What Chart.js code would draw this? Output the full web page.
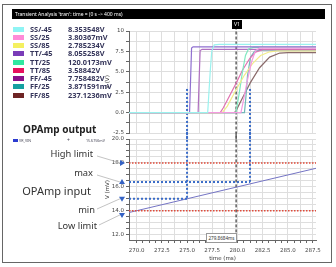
<!DOCTYPE html>
<html><head><meta charset="utf-8">
<script src="https://cdn.jsdelivr.net/npm/chart.js@4.4.0/dist/chart.umd.min.js"></script>
<style>
html,body{margin:0;padding:0;background:#fff;width:336px;height:267px;overflow:hidden;position:relative;font-family:"Noto Sans",sans-serif;}
canvas{position:absolute;left:0;top:0;}
.abs{position:absolute;white-space:nowrap;z-index:5;}
.lg{position:absolute;font-weight:bold;font-size:7.4px;color:#35355a;line-height:8px;white-space:nowrap;z-index:5;}
.sw{position:absolute;width:11px;height:5px;z-index:5;}
.note{position:absolute;white-space:nowrap;color:#333;z-index:5;line-height:1;}
</style></head><body>
<div class="abs" style="left:2px;top:4px;width:328px;height:257px;border:1px solid #666;z-index:1;"></div>
<div class="abs" style="left:12px;top:9px;width:313px;height:10px;background:#000;color:#fff;font-size:5px;line-height:10px;padding-left:3px;box-sizing:border-box;">Transient Analysis 'tran': time = (0 s -&gt; 400 ms)</div>
<canvas id="top" width="336" height="267"></canvas>
<canvas id="bot" width="336" height="267"></canvas>
<div id="legend"></div>
<div class="abs" style="left:232px;top:20px;width:10px;height:9px;background:#000;color:#fff;font-size:5px;line-height:9px;text-align:center;">V1</div>
<div class="abs" id="curlab" style="left:206px;top:233px;width:29px;height:8px;background:#fff;border:1px solid #999;color:#333;font-size:4.6px;line-height:8px;text-align:center;"></div>
<div class="note" style="left:23px;top:124px;font-size:10px;font-weight:bold;color:#222;">OPAmp output</div>
<div class="abs" style="left:13px;top:139px;width:5px;height:3px;background:#2b3bd0;"></div>
<div class="abs" style="left:19px;top:138px;font-size:3.6px;color:#445;">VR_VIN</div>
<div class="abs" style="left:67px;top:137px;font-size:5px;color:#445;">+</div>
<div class="abs" id="vinread" style="left:86px;top:138px;font-size:3.6px;color:#445;"></div>
<div class="note" style="right:243px;top:149px;font-size:9.3px;">High limit</div>
<div class="note" style="right:243px;top:168px;font-size:9.3px;">max</div>
<div class="note" style="right:245px;top:185px;font-size:11px;">OPAmp input</div>
<div class="note" style="right:241px;top:205px;font-size:9.3px;">min</div>
<div class="note" style="right:239px;top:221px;font-size:9.3px;">Low limit</div>
<script>
// ---- data ----
const cornerNames = ['SS/-45','SS/25','SS/85','TT/-45','TT/25','TT/85','FF/-45','FF/25','FF/85'];
const cursorReadouts = ['8.353548V','3.80367mV','2.785234V','8.055258V','120.0173mV','3.58842V','7.758482V','3.871591mV','237.1236mV'];
const swatchColors = ['#8ff4f4','#ff8ad8','#f4f060','#7a3cb8','#30e8a0','#e8105e','#8a108a','#14a0a0','#6e2424'];
const lineColors = ['#9af2ee','#f49ae0','#f2ec8a','#9070d0','#80e8c0','#e070b0','#b070c0','#70b8b8','#8a6a6a'];
// [time ms, V] for each corner
const ssM45 = [[269.24,0],[277.05,0],[277.15,2],[277.3,5],[277.45,7.5],[277.7,8.3],[278.2,8.35],[287.8,8.35]];
const ss25  = [[269.24,0],[280.35,0],[280.6,1.5],[281.0,4],[281.4,6.2],[281.8,7.6],[282.2,7.9],[287.8,7.9]];
const ss85  = [[269.24,0],[278.5,0],[279.0,0.8],[279.87,2.79],[280.7,4.6],[281.5,6.0],[282.3,7.0],[283.2,7.45],[284.0,7.55],[287.8,7.55]];
const ttM45 = [[269.24,0],[275.25,0],[275.35,4],[275.45,7.9],[275.6,8.06],[287.8,8.06]];
const tt25  = [[269.24,0],[279.8,0],[279.87,0.12],[280.2,2.5],[280.5,5],[280.8,7.0],[281.1,7.8],[281.6,8.0],[287.8,8.0]];
const tt85  = [[269.24,0],[278.3,0],[278.6,0.6],[279.2,2.0],[279.87,3.59],[280.5,5.2],[281.2,6.6],[281.8,7.4],[282.5,7.7],[287.8,7.7]];
const ffM45 = [[269.24,0],[276.1,0],[276.2,4],[276.3,7.6],[276.5,7.76],[287.8,7.76]];
const ff25  = [[269.24,0],[280.7,0],[280.85,2],[281.0,4.5],[281.3,6.8],[281.7,7.5],[282.3,7.65],[287.8,7.65]];
const ff85  = [[269.24,0],[279.7,0],[279.87,0.24],[280.5,1.8],[281.3,3.7],[282.2,5.5],[283.2,6.8],[284.2,7.3],[285.0,7.35],[287.8,7.35]];
const cornerSeries = [ssM45, ss25, ss85, ttM45, tt25, tt85, ffM45, ff25, ff85];

const vinTime = [269.24, 287.8];
const vinMv = [13.85, 17.55];
const vinReadout = '15.6756mV';
const highLimit = 18.0, lowLimit = 14.0;
const minPoint = [275.0, 15.0];
const maxPoint = [281.25, 16.4];
const probeTopV = 2.9;
const cursorTime = 279.8684;
const cursorLabel = '279.8684ms';

const xRange = [269.24, 287.8];
const topYRange = [-2.5, 10];
const botYRange = [11.55, 20];
const xTickLabels = [270, 272.5, 275, 277.5, 280, 282.5, 285, 287.5];
const topYTickLabels = [-2.5, 0, 2.5, 5, 7.5, 10];
const botYTickLabels = [12, 14, 16, 18, 20];
const arrowMarks = [[18.0,'r'],[16.4,'u'],[15.0,'d'],[13.65,'d']];

// ---- HTML legend ----
const lg = document.getElementById('legend');
cornerNames.forEach((n,i)=>{
  const yc = 29.3 + i*8.21;
  lg.insertAdjacentHTML('beforeend',
    `<div class="sw" style="left:13px;top:${(yc-2.5).toFixed(1)}px;background:${swatchColors[i]}"></div>`+
    `<div class="lg" style="left:30px;top:${(yc-4.5).toFixed(1)}px">${n}</div>`+
    `<div class="lg" style="left:68px;top:${(yc-4.5).toFixed(1)}px">${cursorReadouts[i]}</div>`);
});
document.getElementById('curlab').textContent = cursorLabel;
document.getElementById('vinread').textContent = vinReadout;

const xy = a => a.map(p=>({x:p[0],y:p[1]}));
const stepTicks = (a,b,s)=>{const t=[];for(let v=a;v<=b+1e-9;v+=s)t.push({value:+v.toFixed(4)});return t;};
const fmt1 = v => Math.abs(v) >= 10 && Math.abs(v) < 11 && v % 1 === 0 && v === 10 ? '10' : v.toFixed(1);
const tickFont = {family:'DejaVu Sans', size:5.5};
const gridCol = '#dedede';

const xScale = (showLabels) => ({
  type:'linear', min:xRange[0], max:xRange[1],
  afterBuildTicks: s => { s.ticks = stepTicks(270, 287.5, 0.625); },
  ticks:{display:showLabels, autoSkip:false, maxRotation:0, font:tickFont, color:'#444', padding:4,
    callback: v => xTickLabels.some(t=>Math.abs(t-v)<1e-6) ? v.toFixed(1) : ''},
  grid:{color: c => (Math.abs((c.tick.value/1.25)-Math.round(c.tick.value/1.25))<1e-6) ? gridCol : 'rgba(0,0,0,0)',
        tickLength: showLabels?3:0, drawTicks:showLabels, tickColor:'#666'},
  border:{display:showLabels, color:'#666'},
  title: showLabels ? {display:true, text:'time (ms)', font:{family:'DejaVu Sans',size:5.5}, color:'#333', padding:{top:0,bottom:2}} : {display:false},
  afterFit: s => { s.height = showLabels ? 24 : 0; }
});

const yScale = (range, labels, step, title) => ({
  type:'linear', min:range[0], max:range[1],
  afterBuildTicks: s => { s.ticks = stepTicks(Math.ceil(range[0]/step)*step, range[1], step); },
  ticks:{autoSkip:false, font:tickFont, color:'#444', padding:2,
    callback: v => labels.some(t=>Math.abs(t-v)<1e-6) ? fmt1(v) : ''},
  grid:{color:gridCol, tickLength:3, tickColor:'#666'},
  border:{color:'#666'},
  title:{display:true, text:title, font:{family:'DejaVu Sans',size:5.5}, color:'#333', padding:{top:4,bottom:0}},
  afterFit: s => { s.width = 29; }
});

const base = {responsive:false, animation:false, devicePixelRatio:1,
  plugins:{legend:{display:false}, tooltip:{enabled:false}},
  elements:{point:{radius:0}, line:{tension:0}}};

// ---- top chart: corner outputs ----
const topDatasets = cornerSeries.map((s,i)=>({data:xy(s), borderColor:lineColors[i], borderWidth:1.2}));
topDatasets.push({data:xy([[minPoint[0],probeTopV],[minPoint[0],topYRange[0]-0.8]]), borderColor:'#3a6cc8', borderWidth:2, borderDash:[2,2], clip:false});
topDatasets.push({data:xy([[maxPoint[0],probeTopV],[maxPoint[0],topYRange[0]-0.8]]), borderColor:'#3a6cc8', borderWidth:2, borderDash:[2,2], clip:false});
topDatasets.push({data:xy([[cursorTime,topYRange[0]-0.8],[cursorTime,topYRange[1]+0.3]]), borderColor:'#111', borderWidth:1, borderDash:[3,2], clip:false});

new Chart(document.getElementById('top'), {
  type:'line', data:{datasets:topDatasets},
  options:{...base, layout:{padding:{left:100,right:20,top:31,bottom:134}},
    scales:{x:xScale(false), y:yScale(topYRange, topYTickLabels, 1.25, 'V (V)')}}
});

// ---- bottom chart: OPAmp input ----
const annot = {
  id:'annot',
  afterDatasetsDraw(chart){
    const {ctx} = chart; const y = chart.scales.y;
    const ax = chart.chartArea.left - 7;
    ctx.save();
    ctx.strokeStyle = '#b4b4b4'; ctx.lineWidth = 0.8;
    const leaders = [[97,156,18.0],[97,175,16.4],[97,209,15.0],[99,225,13.65]];
    leaders.forEach(([x0,y0,v])=>{ctx.beginPath();ctx.moveTo(x0,y0);ctx.lineTo(ax-2,y.getPixelForValue(v));ctx.stroke();});
    ctx.fillStyle = '#3462c4';
    arrowMarks.forEach(([v,d])=>{
      const py = y.getPixelForValue(v); const px = ax;
      ctx.beginPath();
      if(d==='r'){ctx.moveTo(px-2,py-3);ctx.lineTo(px-2,py+3);ctx.lineTo(px+3,py);}
      else if(d==='u'){ctx.moveTo(px-3,py+2);ctx.lineTo(px+3,py+2);ctx.lineTo(px,py-3);}
      else {ctx.moveTo(px-3,py-2);ctx.lineTo(px+3,py-2);ctx.lineTo(px,py+3);}
      ctx.closePath(); ctx.fill();
    });
    ctx.restore();
  }
};
const botDatasets = [
  {data:xy([[xRange[0],highLimit],[xRange[1],highLimit]]), borderColor:'#e04a3a', borderWidth:1.5, borderDash:[1.5,1.5]},
  {data:xy([[xRange[0],lowLimit],[xRange[1],lowLimit]]), borderColor:'#e04a3a', borderWidth:1.5, borderDash:[1.5,1.5]},
  {data:xy([[xRange[0],maxPoint[1]],[maxPoint[0],maxPoint[1]]]), borderColor:'#3a6cc8', borderWidth:2, borderDash:[2,2]},
  {data:xy([[xRange[0],minPoint[1]],[minPoint[0],minPoint[1]]]), borderColor:'#3a6cc8', borderWidth:2, borderDash:[2,2]},
  {data:xy([[minPoint[0],botYRange[1]+0.6],[minPoint[0],minPoint[1]]]), borderColor:'#3a6cc8', borderWidth:2, borderDash:[2,2], clip:false},
  {data:xy([[maxPoint[0],botYRange[1]+0.6],[maxPoint[0],maxPoint[1]]]), borderColor:'#3a6cc8', borderWidth:2, borderDash:[2,2], clip:false},
  {data:vinTime.map((t,i)=>({x:t,y:vinMv[i]})), borderColor:'#7474c4', borderWidth:1},
  {data:xy([[cursorTime,botYRange[0]-0.2],[cursorTime,botYRange[1]+0.6]]), borderColor:'#111', borderWidth:1, borderDash:[3,2], clip:false}
];
new Chart(document.getElementById('bot'), {
  type:'line', data:{datasets:botDatasets},
  options:{...base, layout:{padding:{left:100,right:20,top:139,bottom:3}},
    scales:{x:xScale(true), y:yScale(botYRange, botYTickLabels, 0.5, 'V (mV)')}},
  plugins:[annot]
});
</script>
</body></html>
